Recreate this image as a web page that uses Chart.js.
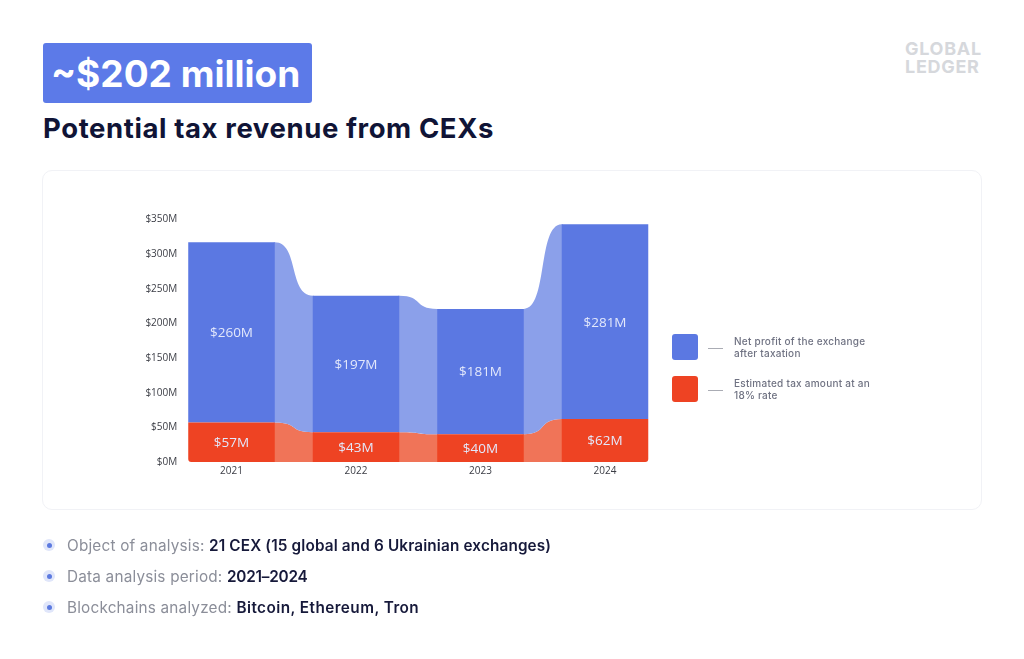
<!DOCTYPE html>
<html><head><meta charset="utf-8">
<script src="https://cdn.jsdelivr.net/npm/chart.js@4/dist/chart.umd.min.js"></script>
<style>
html,body{margin:0;padding:0;background:#fff;width:1024px;height:659px;overflow:hidden;font-family:Inter,"Open Sans",sans-serif}
.abs{position:absolute;white-space:nowrap}
#badge{left:43px;top:43px;width:269px;height:60px;background:#5c7ae8;border-radius:3px}
#badgeText{left:51px;top:52px;font-size:37px;line-height:44px;font-weight:700;color:#fff}
#title{left:43px;top:110px;font-size:27.5px;line-height:36px;font-weight:700;color:#101436;letter-spacing:.6px}
#logo{left:905px;top:40px;font-size:18px;line-height:18px;font-weight:700;color:#d6d8dc;letter-spacing:.7px}
#card{left:42px;top:170px;width:938px;height:338px;border:1px solid #f1f2f6;border-radius:10px;box-sizing:content-box}
canvas{position:absolute;left:0;top:0}
.sw{position:absolute;left:672px;width:26px;height:26px;border-radius:3px}
.dash{position:absolute;left:708px;width:15px;height:1px;background:#aaacb4}
.lt{left:734px;font-size:10px;line-height:12px;font-weight:500;color:#6f7282;letter-spacing:.25px}
.bi{position:absolute;left:43px;width:12px;height:12px;border-radius:50%;background:#e0e6fa}
.bi:after{content:"";position:absolute;left:3.5px;top:3.5px;width:5px;height:5px;border-radius:50%;background:#5c7ae0}
.bt{left:67px;font-size:15.3px;line-height:20px;color:#8b8e99;letter-spacing:.2px}
.bt b{font-weight:600;color:#16193a;letter-spacing:.15px}
</style></head><body>
<div class="abs" id="badge"></div><div class="abs" id="badgeText">~$202 million</div>
<div class="abs" id="title">Potential tax revenue from CEXs</div>
<div class="abs" id="logo">GLOBAL<br>LEDGER</div>
<div class="abs" id="card"></div>
<canvas id="c" width="1024" height="659" style="width:1024px;height:659px"></canvas>
<div class="sw" style="top:334px;background:#5b78e2"></div><div class="dash" style="top:348px"></div>
<div class="abs lt" style="top:335px">Net profit of the exchange<br>after taxation</div>
<div class="sw" style="top:376px;background:#ee4323"></div><div class="dash" style="top:390px"></div>
<div class="abs lt" style="top:377px">Estimated tax amount at an<br>18% rate</div>
<div class="bi" style="top:539px"></div><div class="abs bt" style="top:536px">Object of analysis: <b>21 CEX (15 global and 6 Ukrainian exchanges)</b></div>
<div class="bi" style="top:570px"></div><div class="abs bt" style="top:567px">Data analysis period: <b style="letter-spacing:-.2px">2021–2024</b></div>
<div class="bi" style="top:601px"></div><div class="abs bt" style="top:598px">Blockchains analyzed: <b style="letter-spacing:.45px">Bitcoin, Ethereum, Tron</b></div>
<script>
const years = ['2021','2022','2023','2024'];
const taxAmount = [57,43,40,62];
const netProfit = [260,197,181,281];
const taxLabels = ['$57M','$43M','$40M','$62M'];
const profitLabels = ['$260M','$197M','$181M','$281M'];
const blue = '#5b78e2', red = '#ee4323', blueFlow = '#8ba0ea', redFlow = '#f07458';

const flowPlugin = {
  id:'flows',
  afterLayout(chart){ chart.scales.y.right += 8; },
  beforeDatasetsDraw(chart){
    const ctx = chart.ctx, y = chart.scales.y;
    const m0 = chart.getDatasetMeta(0).data;
    const band = (i, lowA, lowB, highA, highB, color) => {
      const xa = m0[i].x + m0[i].width/2, xb = m0[i+1].x - m0[i+1].width/2, w = xb-xa;
      const c1 = xa + 0.64*w, c2 = xb - 0.64*w;
      ctx.beginPath();
      ctx.moveTo(xa-1, y.getPixelForValue(highA));
      ctx.lineTo(xa, y.getPixelForValue(highA));
      ctx.bezierCurveTo(c1, y.getPixelForValue(highA), c2, y.getPixelForValue(highB), xb, y.getPixelForValue(highB));
      ctx.lineTo(xb+1, y.getPixelForValue(highB));
      ctx.lineTo(xb+1, y.getPixelForValue(lowB));
      ctx.lineTo(xb, y.getPixelForValue(lowB));
      ctx.bezierCurveTo(c2, y.getPixelForValue(lowB), c1, y.getPixelForValue(lowA), xa, y.getPixelForValue(lowA));
      ctx.lineTo(xa-1, y.getPixelForValue(lowA));
      ctx.closePath(); ctx.fillStyle = color; ctx.fill();
    };
    ctx.save();
    for(let i=0;i<years.length-1;i++){
      band(i,0,0,taxAmount[i],taxAmount[i+1],redFlow);
      band(i,taxAmount[i],taxAmount[i+1],taxAmount[i]+netProfit[i],taxAmount[i+1]+netProfit[i+1],blueFlow);
    }
    ctx.restore();
  }
};
const labelPlugin = {
  id:'barLabels',
  afterDatasetsDraw(chart){
    const ctx = chart.ctx;
    ctx.save();
    ctx.font = '13.5px "Open Sans"'; ctx.textAlign='center'; ctx.textBaseline='middle';
    ctx.fillStyle = '#e3e8fb';
    [profitLabels,taxLabels].forEach((labs,k)=>{
      chart.getDatasetMeta(k===0?1:0).data.forEach((b,i)=>{
        ctx.fillText(labs[i], b.x, (b.y+b.base)/2+1);
      });
    });
    ctx.restore();
  }
};
const W = 60;
new Chart(document.getElementById('c'),{
  type:'bar',
  data:{labels:years,datasets:[
    {label:'Estimated tax amount at an 18% rate',data:taxAmount,backgroundColor:red,
     borderRadius:ctx=>({bottomLeft:ctx.dataIndex===0?3:0,bottomRight:ctx.dataIndex===3?3:0,topLeft:0,topRight:0}),borderSkipped:false},
    {label:'Net profit of the exchange after taxation',data:netProfit,backgroundColor:blue}
  ]},
  options:{
    responsive:false,animation:false,
    layout:{padding:{left:169.25-W,right:356.75,top:219.5,bottom:177}},
    datasets:{bar:{categoryPercentage:1,barPercentage:0.695}},
    plugins:{legend:{display:false},tooltip:{enabled:false}},
    scales:{
      x:{stacked:true,grid:{display:false,drawTicks:false},border:{display:false},
         afterFit(s){s.height=20},
         ticks:{color:'#3b3d45',font:{family:'Open Sans',size:10},padding:3,maxRotation:0}},
      y:{stacked:true,min:0,max:350,grid:{display:false,drawTicks:false},border:{display:false},
         afterFit(s){s.width=W},
         ticks:{stepSize:50,color:'#3b3d45',font:{family:'Open Sans',size:10},padding:0,callback:v=>'$'+v+'M'}}
    }
  },
  plugins:[flowPlugin,labelPlugin]
});
</script>
</body></html>
